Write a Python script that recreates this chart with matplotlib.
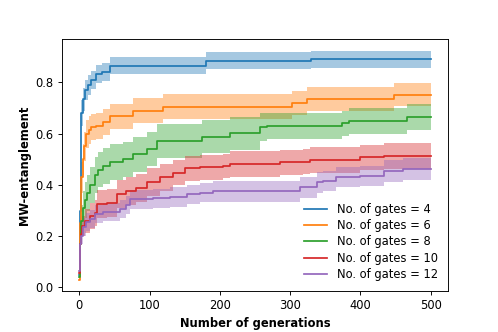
import matplotlib
matplotlib.use("Agg")
import matplotlib.pyplot as plt

# generation at which the mean changes, mean value, band half-width
gens_4 = [0, 1, 2, 3, 5, 8, 12, 17, 24, 32, 43, 180, 330, 500]
mean_4 = [0.05, 0.30, 0.55, 0.68, 0.735, 0.77, 0.79, 0.81, 0.834, 0.84, 0.865, 0.884, 0.89, 0.89]
std_4 = [0.0, 0.04, 0.05, 0.05, 0.045, 0.04, 0.04, 0.035, 0.035, 0.035, 0.033, 0.033, 0.034, 0.034]

gens_6 = [0, 1, 2, 3, 5, 7, 10, 14, 17, 24, 34, 43, 77, 119, 302, 324, 448, 500]
mean_6 = [0.03, 0.25, 0.36, 0.43, 0.50, 0.55, 0.60, 0.615, 0.625, 0.63, 0.645, 0.667, 0.69, 0.705,
          0.72, 0.736, 0.752, 0.752]
std_6 = [0.0, 0.05, 0.06, 0.06, 0.06, 0.055, 0.055, 0.055, 0.05, 0.05, 0.05, 0.05, 0.05, 0.048,
         0.048, 0.048, 0.046, 0.046]

gens_8 = [0, 1, 2, 3, 5, 8, 11, 15, 22, 27, 34, 43, 62, 77, 96, 110, 174, 214, 257, 267, 374, 384,
          466, 500]
mean_8 = [0.04, 0.17, 0.22, 0.26, 0.31, 0.34, 0.37, 0.40, 0.44, 0.46, 0.475, 0.488, 0.50, 0.52,
          0.54, 0.57, 0.588, 0.601, 0.625, 0.63, 0.64, 0.65, 0.664, 0.664]
std_8 = [0.0, 0.04, 0.05, 0.06, 0.065, 0.07, 0.07, 0.07, 0.07, 0.07, 0.07, 0.07, 0.068, 0.068,
         0.066, 0.066, 0.065, 0.065, 0.055, 0.052, 0.05, 0.05, 0.05, 0.05]

gens_10 = [0, 1, 2, 4, 8, 15, 22, 25, 39, 53, 67, 81, 96, 115, 134, 150, 172, 205, 214, 286, 319,
           328, 400, 434, 500]
mean_10 = [0.056, 0.17, 0.21, 0.24, 0.259, 0.278, 0.29, 0.324, 0.33, 0.363, 0.376, 0.389, 0.41,
           0.429, 0.448, 0.465, 0.468, 0.473, 0.481, 0.488, 0.491, 0.497, 0.507, 0.514, 0.514]
std_10 = [0.0, 0.03, 0.035, 0.04, 0.045, 0.05, 0.05, 0.055, 0.055, 0.055, 0.055, 0.055, 0.055,
          0.052, 0.05, 0.048, 0.048, 0.048, 0.05, 0.05, 0.05, 0.05, 0.05, 0.05, 0.05]

gens_12 = [0, 1, 2, 5, 10, 15, 22, 34, 58, 67, 72, 105, 129, 153, 172, 190, 314, 338, 347, 366,
           400, 433, 461, 500]
mean_12 = [0.063, 0.17, 0.2, 0.235, 0.255, 0.268, 0.285, 0.295, 0.305, 0.322, 0.344, 0.347, 0.352,
           0.363, 0.37, 0.375, 0.39, 0.41, 0.416, 0.43, 0.435, 0.455, 0.462, 0.462]
std_12 = [0.0, 0.025, 0.03, 0.035, 0.035, 0.035, 0.035, 0.035, 0.035, 0.035, 0.038, 0.038, 0.038,
          0.038, 0.038, 0.04, 0.04, 0.04, 0.04, 0.04, 0.04, 0.042, 0.042, 0.042]

labels = ["No. of gates = 4", "No. of gates = 6", "No. of gates = 8",
          "No. of gates = 10", "No. of gates = 12"]
series = [(gens_4, mean_4, std_4), (gens_6, mean_6, std_6), (gens_8, mean_8, std_8),
          (gens_10, mean_10, std_10), (gens_12, mean_12, std_12)]

fig, ax = plt.subplots(figsize=(6, 4), dpi=83)
fig.subplots_adjust(left=0.124, right=0.9, bottom=0.123, top=0.882)

for (g, m, s), lab in zip(series, labels):
    line, = ax.plot(g, m, drawstyle="steps-post", label=lab)
    lo = [a - b for a, b in zip(m, s)]
    hi = [a + b for a, b in zip(m, s)]
    ax.fill_between(g, lo, hi, step="post", color=line.get_color(), alpha=0.4, linewidth=0)

ax.set_xlabel("Number of generations", fontweight="bold")
ax.set_ylabel("MW-entanglement", fontweight="bold")
ax.legend(loc="lower right", frameon=False, labelspacing=0.28)

fig.savefig("out.png", dpi=83)
